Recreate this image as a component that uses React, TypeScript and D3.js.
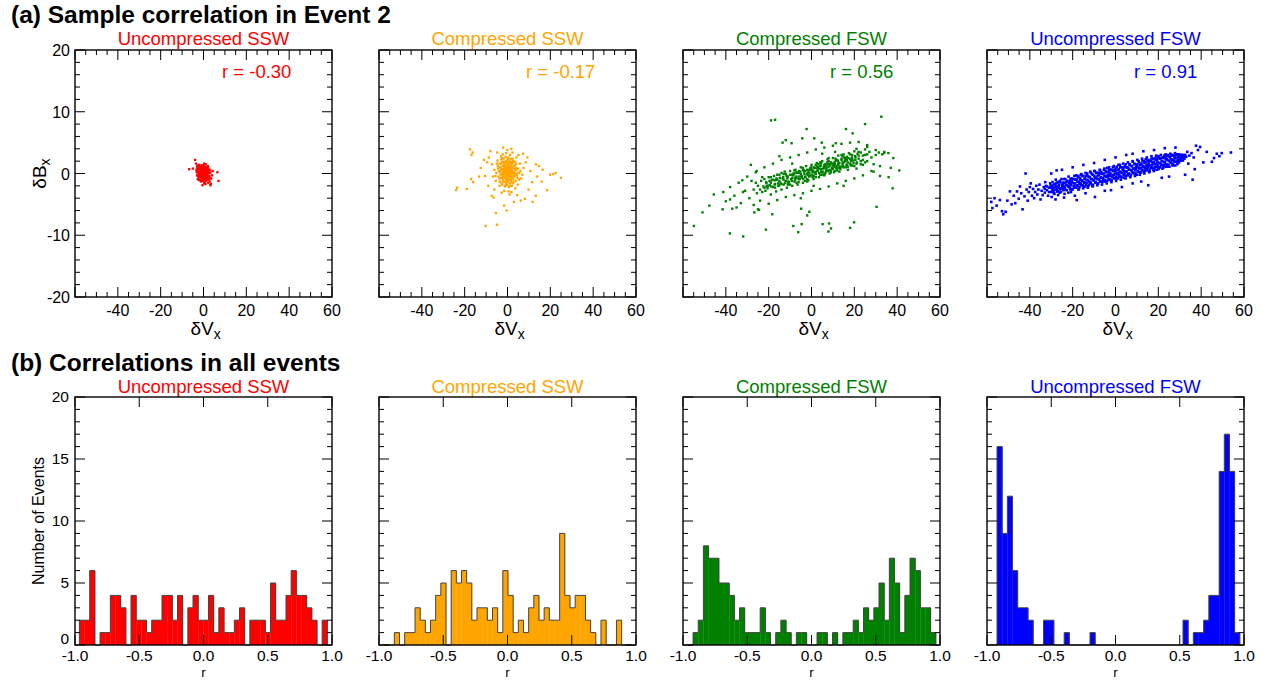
import React from "react";
import * as d3 from "d3";

// four solar wind groups, same order in both rows
const groupNames = ["Uncompressed SSW", "Compressed SSW", "Compressed FSW", "Uncompressed FSW"];
const groupColors = ["#ff0000", "#ffa500", "#008000", "#0000ff"];
const sampleCorrLabels = ["r = -0.30", "r = -0.17", "r = 0.56", "r = 0.91"];

const vxTicks = [-60, -40, -20, 0, 20, 40, 60];
const vxTickLabels = ["", "-40", "-20", "0", "20", "40", "60"];
const bxTicks = [-20, -10, 0, 10, 20];
const bxTickLabels = ["-20", "-10", "0", "10", "20"];
const rTicks = [-1, -0.5, 0, 0.5, 1];
const rTickLabels = ["-1.0", "-0.5", "0.0", "0.5", "1.0"];
const countTicks = [0, 5, 10, 15, 20];
const countTickLabels = ["0", "5", "10", "15", "20"];

// (a) sample event 2 : [dVx, dBx]
const uncompSswPoints = [
  [-6.7, 0.7], [-5, 0.8], [-3.9, 2.2], [-3.5, 1.6], [-3, 1.2], [-2.8, 0.5], [-2.5, 1.0], [-2.4, -0.2], [-2.2, 0.3], [-2, 1.4],
  [-2, -0.6], [-1.8, 0.8], [-1.6, 0.1], [-1.5, -1.0], [-1.4, 0.5], [-1.2, 1.1], [-1.1, -0.3], [-1, 0.2], [-0.9, 0.8], [-0.8, -0.7],
  [-0.7, 0.4], [-0.6, -0.1], [-0.5, 1.3], [-0.5, -1.9], [-0.4, 0.6], [-0.3, -0.4], [-0.2, 0.2], [-0.1, -1.2], [0, 0.9], [0, -0.2],
  [0.1, 0.4], [0.2, -0.8], [0.3, 1.6], [0.3, 0], [0.4, -0.5], [0.5, 0.7], [0.6, -1.4], [0.7, 0.2], [0.8, -0.2], [0.9, 1.0],
  [1, -0.9], [1.1, 0.3], [1.2, -0.4], [1.3, 0.8], [1.4, -1.1], [1.5, 0.1], [1.6, -0.6], [1.8, 0.5], [1.9, -0.2], [2, 1.2],
  [2.1, -1.0], [2.3, 0.3], [2.5, -0.5], [2.7, 0.6], [2.9, -1.3], [3.1, 0.1], [3.4, -1.7], [3.6, -0.8], [4, -0.3], [4.3, 0.4],
  [6.5, 0.2], [7, -1.2], [-1.3, -0.5], [-0.8, 0], [0.6, 0.1], [-0.2, 0.9], [1.7, 0.9], [-2.6, -0.4], [0.2, -1.6], [1, 1.5],
  [-1.9, -0.2], [2.2, -1.5], [0.4, 1.1], [-0.6, -1.1], [3.2, -1.9], [-3.2, 0.2], [0.9, -1.7], [1.2, 0.0], [-0.4, -0.8], [0.1, 0.0],
];
const uncompSswCore = [
  [-3.3, 0.6], [-3.0, -0.3], [-2.9, 0.9], [-2.7, -0.9], [-2.6, 0.2], [-2.4, 1.3], [-2.3, -0.5], [-2.1, 0.7], [-1.9, -1.1], [-1.8, 0.3],
  [-1.7, 1.0], [-1.5, -0.4], [-1.4, 0.9], [-1.3, 0.0], [-1.2, -1.3], [-1.0, 0.7], [-1.0, -0.6], [-0.9, 1.3], [-0.8, 0.4], [-0.7, -0.3],
  [-0.6, 0.8], [-0.5, -0.8], [-0.4, 0.1], [-0.3, 1.1], [-0.2, -0.5], [-0.1, 0.5], [0.0, -1.0], [0.1, 0.9], [0.2, 0.3], [0.3, -0.6],
  [0.4, 0.6], [0.5, -0.2], [0.6, 1.1], [0.7, -0.9], [0.8, 0.5], [0.9, -0.4], [1.0, 0.2], [1.1, -1.2], [1.2, 0.7], [1.3, -0.7],
  [1.4, 0.4], [1.5, -0.2], [1.6, 0.9], [1.7, -0.9], [1.8, 0.0], [2.0, 0.6], [2.1, -0.4], [2.3, 0.9], [2.4, -0.9], [2.6, 0.1],
  [2.8, -0.4], [3.0, 0.5], [3.2, -0.8], [-2.0, 0.0], [-0.6, 0.0], [0.5, 0.3], [1.9, 0.3], [-1.6, 0.5], [0.0, 1.3], [-2.2, -1.0],
];

const compSswPoints = [
  [-0.4, 0.3], [0.5, -0.2], [-1.2, 0.8], [1.3, 0.5], [-2.1, -0.4], [2.2, 0.1], [-0.8, -0.9], [0.9, 1.2], [-1.6, 1.5], [1.8, -1.1],
  [-3, 0.6], [3.1, -0.5], [-2.6, 1.9], [0.1, 2.3], [-0.3, -1.8], [2.6, 1.7], [-3.8, -0.8], [3.9, 0.9], [-1, 0], [0.2, 0.7],
  [-0.6, 1.1], [1.5, -0.4], [-2.3, 0.2], [2.8, -1.4], [-4.5, 1.2], [4.4, -0.3], [-1.9, -1.3], [1.1, -1.6], [-0.1, -0.6], [0.6, 0.2],
  [-1.4, 0.4], [1.9, 0.8], [-2.8, -1.5], [3.4, 1.3], [-5.2, 0.1], [5.3, -1.0], [-0.9, 2.7], [0.7, -2.2], [-3.4, 1.0], [2.4, 2.4],
  [-0.5, -0.3], [0.3, -1.0], [-1.7, -0.1], [1.6, 1.9], [-2.4, 2.5], [0.0, 1.6], [-1.1, -2.1], [2.0, -2.0], [-4.0, 0.4], [4.1, 0.5],
  [-0.2, 0.0], [1.0, 0.0], [-0.7, 0.5], [0.4, 1.5], [-1.3, -0.6], [2.9, 0.3], [-3.2, -0.2], [1.4, -0.8], [-2.0, 1.2], [0.8, -0.5],
  [-6.1, 0.6], [6.0, 0.4], [-5.5, -1.2], [5.8, 1.6], [-4.7, 2.1], [4.8, -1.8], [-0.6, 3.3], [1.2, 3.0], [-1.5, -2.8], [0.5, -2.9],
  [3.6, -2.4], [-3.7, -2.0], [-2.2, 3.1], [2.3, 3.4], [-0.3, 0.9], [0.2, -0.4], [-0.9, 0.2], [1.7, 0.3], [-1.8, 0.7], [1.2, 1.0],
  [-2.5, -0.7], [3.3, 0.0], [-0.4, -1.3], [0.6, 1.9], [-1.2, 1.8], [2.1, -0.7], [-6.8, -0.5], [6.9, -0.2], [-3.1, 2.8], [4.2, 2.6],
  [-7.2, 1.5], [7.5, 0.9], [-0.1, 3.8], [1.8, -3.0], [-2.7, -3.1], [0.9, -3.4],
  [-9.5, 1.8], [-8.7, 2.6], [-10.5, -0.4], [-12.5, 0.9], [-13.3, -0.5], [-7.4, -3.6], [-6.1, -2.6], [-9, -2], [-11, 2.2], [-8, 3.6],
  [9.3, 2.6], [10.7, 0.4], [11.5, -1.4], [8.5, 1.8], [6.2, -4.4], [8.1, -4.1], [11.7, -4.6], [13.2, -3.6], [13.3, 1.5], [14.6, 1.2],
  [13.8, -0.5], [16, -1.3], [5.1, 3.0], [-2, 4.2], [1.8, 4.0], [-1.6, -5.2], [-0.4, -6.0], [-5.4, -6.4], [4.5, -3.5], [9.8, -2.6],
  [7.3, 3.2], [-4.8, 3.4], [-6.5, -3.9], [3.0, -4.6],
  [-24, -2.7], [-23.5, -2.3], [-19, -2.5], [-17.5, 3.9], [-16.3, 3.4], [-16.8, 3.0], [-17, -0.9], [-16, -1.4], [-10.2, -8.5], [-4.9, -8.3],
  [16.4, 0.6], [19.9, -0.2], [21.4, -0.1], [22.5, 0.1], [24.9, -0.7], [18.5, -2.7],
];
const compSswCore = [
  [-3.5, 0.2], [-3.2, 1.0], [-3.0, -0.7], [-2.8, 1.5], [-2.6, -0.1], [-2.4, 0.7], [-2.2, -1.0], [-2.0, 1.9], [-1.9, 0.3], [-1.7, -0.5],
  [-1.6, 1.1], [-1.4, -1.4], [-1.3, 0.0], [-1.1, 1.4], [-1.0, -0.8], [-0.9, 0.6], [-0.8, 2.0], [-0.7, -0.2], [-0.5, 1.0], [-0.4, -1.1],
  [-0.3, 0.4], [-0.2, 1.8], [-0.1, -0.4], [0.0, 0.9], [0.1, -1.4], [0.2, 0.2], [0.3, 1.3], [0.4, -0.7], [0.5, 0.6], [0.6, 2.1],
  [0.7, -0.1], [0.8, 1.0], [0.9, -1.0], [1.0, 0.4], [1.1, 1.7], [1.2, -0.3], [1.4, 0.8], [1.5, -1.3], [1.6, 0.1], [1.7, 1.3],
  [1.9, -0.6], [2.0, 0.5], [2.1, 1.6], [2.3, -0.2], [2.5, 0.9], [2.7, -0.9], [2.9, 1.2], [3.1, 0.2], [3.3, -0.3], [3.5, 0.7],
  [3.8, -1.2], [4.0, 1.5], [4.3, 0.0], [4.6, -0.7], [5.0, 0.8], [-4.2, -0.5], [-4.4, 0.8], [-3.7, 1.6], [-3.6, -1.3], [-2.9, 2.3],
  [-1.8, 2.4], [-1.2, -2.0], [0.3, 2.6], [1.4, 2.4], [2.6, 2.0], [3.6, 1.9], [-5.0, 1.6], [-5.6, -0.4], [5.4, 0.1], [6.3, -0.8],
  [-0.6, -1.7], [0.9, -2.0], [2.4, -1.6], [-2.5, -1.8], [-0.8, 0.1], [0.4, 0.0], [-0.2, 0.6], [1.3, 0.2], [-1.5, 0.6], [0.6, -0.4],
];

const compFswPoints = [
  [-27, -2.6], [-26, -1.5], [-25.5, -3.2], [-25, -2.0], [-24, -2.6], [-23.5, -1.2], [-23, -3.0], [-22.5, -2.1], [-22, -0.9], [-21.5, -2.8],
  [-21, -1.6], [-20.5, -2.4], [-20, -0.6], [-19.5, -1.9], [-19, -3.4], [-18.5, -1.1], [-18, -2.2], [-17.5, -0.4], [-17, -1.7], [-16.5, -2.9],
  [-16, -1.0], [-15.5, -2.0], [-15, -0.2], [-14.5, -1.5], [-14, -2.6], [-13.5, -0.8], [-13, -1.8], [-12.5, 0.3], [-12, -1.2], [-11.5, -2.3],
  [-11, -0.5], [-10.5, -1.4], [-10, 0.4], [-9.5, -0.9], [-9, -2.0], [-8.5, -0.3], [-8, -1.3], [-7.5, 0.6], [-7, -0.7], [-6.5, -1.8],
  [-6, 0.1], [-5.5, -0.9], [-5, 1.0], [-4.5, -0.4], [-4, -1.5], [-3.5, 0.3], [-3, -0.6], [-2.5, 1.2], [-2, 0.0], [-1.5, -1.1],
  [-1, 0.6], [-0.5, -0.3], [0, 1.4], [0.5, 0.2], [1, -0.9], [1.5, 0.9], [2, -0.1], [2.5, 1.7], [3, 0.5], [3.5, -0.6],
  [4, 1.2], [4.5, 0.3], [5, 2.0], [5.5, 0.8], [6, -0.3], [6.5, 1.5], [7, 0.6], [7.5, 2.3], [8, 1.1], [8.5, 0.0],
  [9, 1.8], [9.5, 0.9], [10, 2.5], [10.5, 1.4], [11, 0.4], [11.5, 2.1], [12, 1.2], [12.5, 2.9], [13, 1.7], [13.5, 0.7],
  [14, 2.4], [14.5, 1.5], [15, 3.1], [15.5, 2.0], [16, 1.0], [16.5, 2.7], [17, 1.8], [17.5, 3.3], [18, 2.3], [18.5, 1.3],
  [19, 3.0], [19.5, 2.1], [20, 3.6], [20.5, 2.6], [21, 1.6], [21.5, 3.2], [22, 2.4], [23, 3.4], [24, 2.2], [25, 3.0],
  [26, 2.0], [27, 3.5], [28, 2.6], [30, 3.0],
  [-9, -0.2], [-7, 0.2], [-5, -0.1], [-3, 0.4], [-1, -0.5], [1, 0.3], [3, 1.0], [5, 0.2], [7, 1.3], [9, 0.5],
  [11, 1.5], [13, 0.9], [15, 1.8], [17, 1.1], [19, 2.4], [-8, 0.0], [-6, -0.5], [-4, 0.6], [-2, -0.9], [0, 0.5],
  [2, 1.4], [4, -0.2], [6, 0.9], [8, 2.0], [10, 0.7], [12, 2.2], [14, 1.1], [16, 2.5], [18, 1.6], [-11, -1.6],
  [-13, -0.1], [-15, -1.2], [-17, -2.3], [-19, -0.6], [-21, -2.1], [-0.5, 0.9], [0.5, -0.6], [2.5, 0.4], [4.5, 1.7], [6.5, 0.1],
  [8.5, 1.5], [10.5, 0.2], [12.5, 1.6], [14.5, 2.8], [16.5, 1.4], [3.7, 0.8], [5.8, 1.1], [7.8, 0.4], [9.8, 1.3], [11.8, 0.8],
  [1.8, 0.2], [-1.8, -0.2], [-3.8, -0.9], [-5.8, 0.4], [-7.8, -0.8],
  [-40, -4.5], [-38, -2.2], [-36, -3.6], [-34, -1.5], [-33, -4.8], [-31, -2.8], [-30, -0.5], [-29, -4.0], [-28, -1.2], [-27, -5.1],
  [-26, 0.2], [-24, -4.4], [-22, 1.0], [-20, -4.9], [-18, 1.6], [-16, -4.3], [-14, 2.2], [-12, -3.8], [-10, 2.6], [-8, -3.5],
  [-6, 3.0], [-4, -3.2], [-2, 3.4], [0, -2.8], [2, 3.9], [4, -2.5], [6, 4.2], [8, -2.1], [10, 4.5], [12, -1.6],
  [14, 4.8], [16, -1.2], [18, 5.0], [20, -0.8], [22, 5.1], [24, -0.3], [26, 4.6], [28, 0.4], [30, 3.8], [32, 1.2],
  [34, 3.5], [36, -0.6], [-35, -5.5], [-25, -5.8], [-15, 2.8], [-5, -4.0], [5, 3.2], [15, -2.0], [25, 3.9], [-32, -3.0],
  [-23, -0.6], [-9, 1.6], [1, -2.0], [11, 3.5], [21, 4.0], [29, 1.5], [33, 3.1],
  [-18.9, 8.6], [-17, 8.7], [32.6, 9.2], [25, 8.0], [16.1, 7.2], [19.2, 6.5], [-2.3, 7.2], [-54.9, -8.5], [-50.9, -6.3], [-47.7, -5.2],
  [-45.6, -3.4], [-38.1, -9.7], [-31.9, -10.2], [-21.3, -9.1], [-8.5, -8.5], [-6.2, -9.5], [-4.6, -8.2], [5.2, -8.2], [8.2, -8.1], [7.9, -9.4],
  [9.1, -8.9], [18, -8.8], [19.9, -7.9], [30.4, -5.4], [37.9, -2.4], [41, 0.5], [37, 0.9], [32, -0.4], [29, 0.3], [38.2, 2.5],
  [35.9, 3.3], [33.9, 3.3], [31.4, 3.4], [26, 4.3], [-41.5, -5.8], [-37, -5.7], [-26.7, -6.3], [-24.5, -5.9], [-18.3, -6.6], [-4.8, -5.7],
  [-2, -6.8], [-1, -6.2], [-41.2, -3.0], [-38, -4.2], [-32.3, -1.1], [-28.3, 1.4], [-25.6, 0.4], [-13.5, 5.0], [-12, 5.4], [-9.3, 4.9],
  [-4.3, 5.7], [1.3, 5.7], [4.8, 5.0], [11.3, 4.9],
];
const compFswCore = [
  [-22, -2.3], [-21.2, -1.4], [-20.4, -2.0], [-19.6, -1.2], [-18.8, -2.1], [-18, -1.0], [-17.2, -1.8], [-16.4, -0.8], [-15.6, -1.6], [-14.8, -0.7],
  [-14, -1.7], [-13.2, -0.6], [-12.4, -1.5], [-11.6, -0.4], [-10.8, -1.3], [-10, -0.2], [-9.2, -1.2], [-8.4, 0.0], [-7.6, -1.0], [-6.8, 0.1],
  [-6, -0.9], [-5.2, 0.3], [-4.4, -0.7], [-3.6, 0.5], [-2.8, -0.5], [-2, 0.6], [-1.2, -0.4], [-0.4, 0.8], [0.4, -0.2], [1.2, 1.0],
  [2, 0.0], [2.8, 1.1], [3.6, 0.1], [4.4, 1.3], [5.2, 0.3], [6, 1.4], [6.8, 0.4], [7.6, 1.6], [8.4, 0.6], [9.2, 1.7],
  [10, 0.8], [10.8, 1.9], [11.6, 0.9], [12.4, 2.0], [13.2, 1.1], [14, 2.2], [14.8, 1.2], [15.6, 2.3], [16.4, 1.4], [17.2, 2.5],
  [18, 1.5], [18.8, 2.6], [19.6, 1.7], [20.4, 2.8], [21.2, 1.8], [22, 2.9], [23, 2.0], [24, 2.9], [25, 1.8], [26, 3.1],
  [-19, -1.5], [-17, -1.1], [-15, -1.9], [-13, -1.0], [-11, -1.8], [-9, -0.7], [-7, -1.5], [-5, -0.5], [-3, -1.2], [-1, 0.1],
  [1, -0.4], [3, 0.7], [5, -0.2], [7, 0.9], [9, 0.2], [11, 1.1], [13, 0.3], [15, 1.0], [17, 0.6], [19, 1.3],
  [21, 0.8], [23, 1.5], [-16, -0.2], [-14, 0.1], [-12, -0.1], [-10, -1.8], [-8, 0.5], [-6, -1.4], [-4, 0.9], [-2, -1.3],
  [0, 1.0], [2, -0.6], [4, 1.8], [6, -0.1], [8, 2.5], [10, 1.6], [12, 0.5], [14, 3.0], [16, 2.0], [18, 3.1],
  [20, 1.2], [22, 3.5], [24, 1.4], [-1.5, 0.3], [0.5, 0.6], [2.5, 0.9], [4.5, 0.7], [6.5, 1.1], [8.5, 1.3], [10.5, 1.2],
  [12.5, 1.4], [14.5, 1.8], [16.5, 2.2], [18.5, 2.0], [20.5, 2.2], [3.2, 1.5], [7.3, 1.8], [11.2, 2.4], [15.2, 2.6], [-3.3, -0.1],
  [-7.3, -0.5], [-11.3, -0.8],
];

const uncompFswPoints = [
  [-58, -4.6], [-57.5, -5.6], [-56.5, -4.0], [-55.5, -5.2], [-54, -4.3], [-53, -6.1], [-52.4, -6.6], [-51.3, -6.2], [-50.5, -4.4], [-49.3, -2.9],
  [-48.5, -5.0], [-47.5, -3.6], [-46.8, -4.8], [-46, -2.9], [-45.2, -4.1], [-44.6, -2.1], [-44, -3.2], [-43.4, -5.8], [-42.5, -3.7], [-42, 0.0],
  [-41.5, -2.6], [-41, -4.4], [-40.5, -3.0], [-40, -2.2], [-39.6, -1.6], [-39, -3.6], [-38.5, -2.5], [-38, -4.0], [-37.5, -3.0], [-37, -2.0],
  [-36.5, -3.4], [-36, -2.6], [-35.5, -1.8], [-35, -4.2], [-34.5, -2.8], [-34, -3.5], [-33.5, -2.2],
  [-33, -3.1], [-32.5, -2.0], [-32, -2.7], [-31.5, -3.6], [-31, -2.3], [-30.5, -1.6], [-30, -3.0], [-29.5, -2.5], [-29, -1.9], [-28.5, -3.3],
  [-28, -2.2], [-27.5, -1.5], [-27.5, 0.5], [-27, -2.9], [-26.5, -2.0], [-26, -1.2], [-25.5, -3.0], [-25, -2.4], [-24.5, -1.7], [-24, -0.9],
  [-23.5, -2.6], [-23, -1.9], [-22.5, -1.3], [-22, -3.1], [-21.5, -2.2], [-21, -1.6], [-20.5, -0.8], [-20, -2.5], [-33, -2.5], [-32, -2.1],
  [-31, -3.0], [-30, -2.3], [-29, -2.8], [-28, -1.7], [-27, -2.3], [-26, -2.6], [-25, -1.8], [-24, -2.1], [-23, -1.4], [-22, -2.0],
  [-21, -2.6], [-20, -1.5], [-32.8, -1.4], [-29.8, -3.8], [-26.8, -3.5], [-23.8, -3.3], [-20.8, -3.0], [-30.3, -2.0], [-27.3, -2.6], [-24.3, -2.5],
  [-21.3, -1.2], [-18.1, -4.3],
  [-19.3, -2.3], [-19, -1.6], [-18.7, -1.0], [-18.4, -0.3], [-18.2, -2.0], [-17.9, -1.3], [-17.6, -0.6], [-17.3, -2.6],
  [-17.1, -2.5], [-16.8, -1.7], [-16.5, -1.0], [-16.2, -0.2], [-16, -1.9], [-15.7, -1.2], [-15.4, -0.4], [-15.1, -2.4],
  [-14.9, -2.2], [-14.6, -1.5], [-14.3, -0.8], [-14, 0.1], [-13.8, -1.8], [-13.5, -1.0], [-13.2, -0.3], [-12.9, -2.3],
  [-12.7, -2.0], [-12.4, -1.3], [-12.1, -0.6], [-11.8, 0.3], [-11.6, -1.6], [-11.3, -0.9], [-11, -0.1], [-10.7, -2.1],
  [-10.5, -1.9], [-10.2, -1.1], [-9.9, -0.4], [-9.6, 0.4], [-9.4, -1.5], [-9.1, -0.7], [-8.8, 0.1], [-8.5, -1.9],
  [-8.3, -1.6], [-8, -0.9], [-7.7, -0.2], [-7.4, 0.6], [-7.2, -1.3], [-6.9, -0.6], [-6.6, 0.2], [-6.3, -1.8],
  [-6.1, -1.4], [-5.8, -0.7], [-5.5, 0.0], [-5.2, 0.8], [-5, -1.1], [-4.7, -0.4], [-4.4, 0.4], [-4.1, -1.6],
  [-3.9, -1.2], [-3.6, -0.5], [-3.3, 0.2], [-3, 1.0], [-2.8, -0.9], [-2.5, -0.2], [-2.2, 0.6], [-1.9, -1.4],
  [-1.7, -1.0], [-1.4, -0.3], [-1.1, 0.4], [-0.8, 1.2], [-0.6, -0.7], [-0.3, 0.0], [0, 0.8], [0.3, -1.2],
  [0.5, -0.8], [0.8, -0.1], [1.1, 0.6], [1.4, 1.4], [1.6, -0.5], [1.9, 0.2], [2.2, 1.0], [2.5, -1.0],
  [2.7, -0.6], [3, 0.1], [3.3, 0.8], [3.6, 1.6], [3.8, -0.3], [4.1, 0.4], [4.4, 1.2], [4.7, -0.8],
  [4.9, -0.4], [5.2, 0.3], [5.5, 1.0], [5.8, 1.8], [6, -0.1], [6.3, 0.6], [6.6, 1.4], [6.9, -0.6],
  [7.1, -0.2], [7.4, 0.5], [7.7, 1.2], [8, 2.0], [8.2, 0.1], [8.5, 0.8], [8.8, 1.6], [9.1, -0.4],
  [9.3, 0.0], [9.6, 0.7], [9.9, 1.4], [10.2, 2.2], [10.4, 0.3], [10.7, 1.0], [11, 1.8], [11.3, -0.2],
  [11.5, 0.2], [11.8, 0.9], [12.1, 1.6], [12.4, 2.4], [12.6, 0.5], [12.9, 1.2], [13.2, 2.0], [13.5, 0.0],
  [13.7, 0.4], [14, 1.1], [14.3, 1.8], [14.6, 2.6], [14.8, 0.7], [15.1, 1.4], [15.4, 2.2], [15.7, 0.2],
  [15.9, 0.6], [16.2, 1.3], [16.5, 2.0], [16.8, 2.8], [17, 0.9], [17.3, 1.6], [17.6, 2.4], [17.9, 0.4],
  [18.1, 0.8], [18.4, 1.5], [18.7, 2.2], [19, 2.9], [19.2, 1.1], [19.5, 1.8], [19.8, 2.5], [20.1, 0.7],
  [20.3, 1.0], [20.6, 1.7], [20.9, 2.4], [21.2, 3.0], [21.4, 1.3], [21.7, 2.0], [22, 2.6], [22.3, 0.9],
  [22.5, 1.2], [22.8, 1.9], [23.1, 2.6], [23.4, 3.1], [23.6, 1.5], [23.9, 2.2], [24.2, 2.8], [24.5, 1.1],
  [24.7, 1.4], [25, 2.1], [25.3, 2.7], [25.6, 3.2], [25.8, 1.7], [26.1, 2.3], [26.4, 2.9], [26.7, 1.3],
  [26.9, 1.6], [27.2, 2.2], [27.5, 2.8], [27.8, 3.3], [28, 1.9], [28.3, 2.5], [28.6, 3.0], [28.9, 1.5],
  [29.1, 2.0], [29.4, 2.6], [29.7, 3.1], [30, 2.3], [30.3, 2.7], [30.6, 2.1], [31, 3.0], [31.4, 2.5],
  [31.8, 2.9], [32.2, 2.4], [32.5, 3.0], [33, 2.7],
  [-28, -4.2], [-24, -3.9], [-19, -3.6], [-14, -3.2], [-9.6, -3.8], [-5, -2.8], [-2.1, -2.7], [3, -2.2], [8, -1.6], [12, -1.3],
  [15.3, -1.9], [21.6, -0.7], [25, -0.5], [32.5, -0.2], [-30, 0.0], [-25, 0.6], [-20, 1.0], [-15, 1.4], [-10, 1.7], [-5, 2.2],
  [0, 2.6], [5, 3.0], [8, 3.2], [13, 3.6], [18, 3.8], [23, 4.1], [28, 4.2],
  [33.5, 3.5], [34.5, 2.9], [35.5, 3.3], [36.5, 2.6], [37.6, 4.5], [39.5, 4.3], [38.5, 3.8], [41, 1.8], [42.6, 3.5], [45, 1.9],
  [46, 2.5], [47.3, 3.2], [48.5, 2.8], [49.6, 3.3], [53.9, 3.4], [36, -1.0], [37, 0.7], [34, 1.6],
];
const uncompFswCore = [
  [-30, -2.0], [-29.7, -2.9], [-29.4, -1.4], [-29.1, -2.3], [-28.8, -3.2], [-28.5, -1.7], [-28.2, -2.6], [-27.9, -1.0], [-27.6, -2.1], [-27.3, -2.9],
  [-27, -1.4], [-26.7, -2.3], [-26.4, -1.8], [-26.1, -3.1], [-25.8, -1.4], [-25.5, -2.4], [-25.2, -0.9], [-24.9, -2.1], [-24.6, -1.5], [-24.3, -2.7],
  [-24, -1.5], [-23.7, -2.4], [-23.4, -0.9], [-23.1, -1.8], [-22.8, -2.7], [-22.5, -1.2], [-22.2, -2.1], [-21.9, -0.5], [-21.6, -1.6], [-21.3, -2.4],
  [-21, -0.9], [-20.7, -1.9], [-20.4, -1.3], [-20.1, -2.6], [-19.8, -0.9], [-19.5, -2.0], [-19.2, -0.4], [-18.9, -1.6], [-18.6, -1.0], [-18.3, -2.3],
  [-18, -1.0], [-17.7, -1.9], [-17.4, -0.4], [-17.1, -1.4], [-16.8, -2.2], [-16.5, -0.7], [-16.2, -1.6], [-15.9, -0.1], [-15.6, -1.1], [-15.3, -1.9],
  [-15, -0.4], [-14.7, -1.4], [-14.4, -0.9], [-14.1, -2.1], [-13.8, -0.4], [-13.5, -1.5], [-13.2, 0.0], [-12.9, -1.1], [-12.6, -0.5], [-12.3, -1.8],
  [-12, -0.6], [-11.7, -1.4], [-11.4, 0.1], [-11.1, -0.9], [-10.8, -1.8], [-10.5, -0.2], [-10.2, -1.1], [-9.9, 0.4], [-9.6, -0.7], [-9.3, -1.4],
  [-9, 0.1], [-8.7, -0.9], [-8.4, -0.4], [-8.1, -1.6], [-7.8, 0.1], [-7.5, -1.0], [-7.2, 0.5], [-6.9, -0.7], [-6.6, 0.0], [-6.3, -1.3],
  [-6, -0.1], [-5.7, -1.0], [-5.4, 0.6], [-5.1, -0.4], [-4.8, -1.3], [-4.5, 0.2], [-4.2, -0.6], [-3.9, 0.9], [-3.6, -0.2], [-3.3, -1.0],
  [-3, 0.6], [-2.7, -0.4], [-2.4, 0.1], [-2.1, -1.2], [-1.8, 0.6], [-1.5, -0.5], [-1.2, 1.0], [-0.9, -0.2], [-0.6, 0.5], [-0.3, -0.8],
  [0, 0.4], [0.3, -0.5], [0.6, 1.1], [0.9, 0.1], [1.2, -0.8], [1.5, 0.7], [1.8, -0.2], [2.1, 1.4], [2.4, 0.3], [2.7, -0.5],
  [3, 1.0], [3.3, 0.1], [3.6, 0.6], [3.9, -0.7], [4.2, 1.0], [4.5, 0.0], [4.8, 1.5], [5.1, 0.3], [5.4, 0.9], [5.7, -0.3],
  [6, 0.9], [6.3, 0.0], [6.6, 1.5], [6.9, 0.6], [7.2, -0.3], [7.5, 1.2], [7.8, 0.3], [8.1, 1.9], [8.4, 0.8], [8.7, 0.0],
  [9, 1.5], [9.3, 0.5], [9.6, 1.1], [9.9, -0.2], [10.2, 1.5], [10.5, 0.4], [10.8, 2.0], [11.1, 0.8], [11.4, 1.4], [11.7, 0.1],
  [12, 1.4], [12.3, 0.5], [12.6, 2.0], [12.9, 1.0], [13.2, 0.2], [13.5, 1.7], [13.8, 0.8], [14.1, 2.3], [14.4, 1.3], [14.7, 0.5],
  [15, 2.0], [15.3, 1.0], [15.6, 1.6], [15.9, 0.3], [16.2, 2.0], [16.5, 0.9], [16.8, 2.4], [17.1, 1.3], [17.4, 1.9], [17.7, 0.6],
  [18, 1.8], [18.3, 1.0], [18.6, 2.5], [18.9, 1.5], [19.2, 0.6], [19.5, 2.2], [19.8, 1.3], [20.1, 2.8], [20.4, 1.7], [20.7, 1.0],
  [21, 2.5], [21.3, 1.5], [21.6, 2.0], [21.9, 0.8], [22.2, 2.5], [22.5, 1.4], [22.8, 2.9], [23.1, 1.8], [23.4, 2.4], [23.7, 1.1],
  [24, 2.3], [24.3, 1.4], [24.6, 3.0], [24.9, 2.0], [25.2, 1.1], [25.5, 2.6], [25.8, 1.8], [26.1, 3.0], [26.4, 2.2], [26.7, 1.4],
  [27, 3.0], [27.3, 2.0], [27.6, 2.5], [27.9, 1.3], [28.2, 3.0], [28.5, 1.9], [28.8, 3.1], [29.1, 2.2], [29.4, 2.9], [29.7, 1.8],
  [30, 2.8], [30.3, 2.1], [30.6, 3.0], [30.9, 2.5], [31.2, 2.8], [31.5, 2.1], [31.8, 3.0], [32.1, 2.7],
];

// (b) histograms of r, one count per bin
const histBinWidth = 0.0402;
const histBinStart = [-0.966, -0.961, -0.962, -0.922];
const uncompSswCounts = [
  2, 2, 6, 0, 1, 1, 4, 4, 3, 0, 4, 2, 2, 1, 2, 2, 4, 4, 2, 4, 0, 3, 4, 2,
  2, 4, 1, 3, 1, 1, 2, 3, 0, 2, 2, 2, 1, 5, 2, 2, 4, 6, 4, 4, 3, 2, 0, 2,
];
const compSswCounts = [
  0, 0, 1, 0, 1, 1, 3, 2, 1, 2, 4, 5, 0, 6, 5, 6, 5, 2, 3, 3, 2, 3, 1, 6,
  4, 1, 2, 1, 3, 4, 2, 3, 2, 2, 9, 4, 3, 4, 4, 2, 1, 0, 2, 0, 0, 2, 0, 0,
];
const compFswCounts = [
  0, 1, 2, 8, 7, 7, 5, 5, 4, 2, 3, 1, 1, 1, 3, 1, 0, 1, 2, 1, 0, 1, 1, 0,
  0, 1, 1, 0, 1, 0, 1, 1, 2, 1, 3, 2, 3, 5, 2, 7, 5, 1, 4, 7, 6, 3, 3, 1,
];
const uncompFswCounts = [
  16, 9, 12, 6, 3, 3, 2, 0, 0, 2, 2, 0, 0, 1, 0, 0, 0, 0, 1, 0, 0, 0, 0, 0,
  0, 0, 0, 0, 0, 0, 0, 0, 0, 0, 0, 0, 2, 0, 1, 1, 2, 4, 4, 14, 17, 14, 1,
];

const scatterSets = [
  uncompSswPoints.concat(uncompSswCore),
  compSswPoints.concat(compSswCore),
  compFswPoints.concat(compFswCore),
  uncompFswPoints.concat(uncompFswCore),
];
const histSets = [uncompSswCounts, compSswCounts, compFswCounts, uncompFswCounts];

const FONT = "'Liberation Sans', Arial, Helvetica, sans-serif";
const W = 1270;
const H = 680;
const panelLeft = 75;
const panelStep = 304;
const panelW = 257;
const scatterTop = 50;
const scatterH = 247;
const histTop = 397;
const histH = 248;
const dotSizes = [2.3, 2.3, 2.4, 2.6];

// box with inward ticks on all four sides (IDL style)
function Frame({ xs, ys, xMajor, xMinor, yMajor, yMinor, majorLen = 10, minorLen = 5 }) {
  const [x0, x1] = xs.range();
  const [y0, y1] = ys.range(); // y0 bottom, y1 top
  const tk = [];
  xMajor.forEach((v, i) => {
    const px = xs(v);
    tk.push(<line key={"xb" + i} x1={px} x2={px} y1={y0} y2={y0 - majorLen} />);
    tk.push(<line key={"xt" + i} x1={px} x2={px} y1={y1} y2={y1 + majorLen} />);
  });
  xMinor.forEach((v, i) => {
    const px = xs(v);
    tk.push(<line key={"xbm" + i} x1={px} x2={px} y1={y0} y2={y0 - minorLen} />);
    tk.push(<line key={"xtm" + i} x1={px} x2={px} y1={y1} y2={y1 + minorLen} />);
  });
  yMajor.forEach((v, i) => {
    const py = ys(v);
    tk.push(<line key={"yl" + i} x1={x0} x2={x0 + majorLen} y1={py} y2={py} />);
    tk.push(<line key={"yr" + i} x1={x1} x2={x1 - majorLen} y1={py} y2={py} />);
  });
  yMinor.forEach((v, i) => {
    const py = ys(v);
    tk.push(<line key={"ylm" + i} x1={x0} x2={x0 + minorLen} y1={py} y2={py} />);
    tk.push(<line key={"yrm" + i} x1={x1} x2={x1 - minorLen} y1={py} y2={py} />);
  });
  return (
    <g>
      <g stroke="#000" strokeWidth={1}>{tk}</g>
      <rect x={x0} y={y1} width={x1 - x0} height={y0 - y1} fill="none" stroke="#000" strokeWidth={1.4} />
    </g>
  );
}

function ScatterPanel({ idx }) {
  const left = panelLeft + idx * panelStep;
  const xs = d3.scaleLinear().domain([-60, 60]).range([left, left + panelW]);
  const ys = d3.scaleLinear().domain([-20, 20]).range([scatterTop + scatterH, scatterTop]);
  const pts = scatterSets[idx];
  const color = groupColors[idx];
  const dot = dotSizes[idx];
  const cx = left + panelW / 2;
  return (
    <g>
      <text x={cx} y={44.5} textAnchor="middle" fill={color} fontSize={18.5}>{groupNames[idx]}</text>
      <g fill={color}>
        {pts.map((p, i) => (
          <rect key={i} x={xs(p[0]) - dot / 2} y={ys(p[1]) - dot / 2} width={dot} height={dot} />
        ))}
      </g>
      <Frame
        xs={xs}
        ys={ys}
        xMajor={vxTicks}
        xMinor={d3.range(-60, 61, 5).filter((v) => v % 20 !== 0)}
        yMajor={bxTicks}
        yMinor={d3.range(-20, 21, 2).filter((v) => v % 10 !== 0)}
      />
      <text x={left + 147} y={78} fill={color} fontSize={18.5}>{sampleCorrLabels[idx]}</text>
      {vxTicks.map((v, i) => (
        <text key={i} x={xs(v)} y={316} textAnchor="middle" fontSize={16}>{vxTickLabels[i]}</text>
      ))}
      <text x={cx + 2} y={335} textAnchor="middle" fontSize={19}>
        δV<tspan fontSize={14} dy={4}>x</tspan>
      </text>
      {idx === 0 &&
        bxTicks.map((v, i) => (
          <text key={"y" + i} x={left - 5} y={ys(v) + 6} textAnchor="end" fontSize={16}>{bxTickLabels[i]}</text>
        ))}
      {idx === 0 && (
        <text transform={`translate(46,${scatterTop + scatterH / 2}) rotate(-90)`} textAnchor="middle" fontSize={19}>
          δB<tspan fontSize={14} dy={4}>x</tspan>
        </text>
      )}
    </g>
  );
}

function HistPanel({ idx }) {
  const left = panelLeft + idx * panelStep;
  const xs = d3.scaleLinear().domain([-1, 1]).range([left, left + panelW]);
  const ys = d3.scaleLinear().domain([0, 20]).range([histTop + histH, histTop]);
  const counts = histSets[idx];
  const start = histBinStart[idx];
  const color = groupColors[idx];
  const cx = left + panelW / 2;
  const edge = (i) => start + i * histBinWidth;
  const stepPts = [[edge(0), 0]]
    .concat(counts.map((c, i) => [edge(i), c]))
    .concat([[edge(counts.length), counts[counts.length - 1]], [edge(counts.length), 0]]);
  const outline = d3
    .line()
    .x((d) => xs(d[0]))
    .y((d) => ys(d[1]))
    .curve(d3.curveStepAfter)(stepPts);
  return (
    <g>
      <text x={cx} y={393} textAnchor="middle" fill={color} fontSize={18.5}>{groupNames[idx]}</text>
      <g fill={color}>
        {counts.map((c, i) =>
          c > 0 ? (
            <rect key={i} x={xs(edge(i))} y={ys(c)} width={xs(edge(i + 1)) - xs(edge(i)) + 0.3} height={ys(0) - ys(c)} />
          ) : null
        )}
      </g>
      <path d={outline} fill="none" stroke="#444" strokeWidth={1} />
      <Frame
        xs={xs}
        ys={ys}
        xMajor={rTicks}
        xMinor={[]}
        yMajor={countTicks}
        yMinor={d3.range(0, 21, 1).filter((v) => v % 5 !== 0)}
      />
      {rTicks.map((v, i) => (
        <text key={i} x={xs(v)} y={661} textAnchor="middle" fontSize={15.5}>{rTickLabels[i]}</text>
      ))}
      <text x={cx} y={676.8} textAnchor="middle" fontSize={13.5}>r</text>
      {idx === 0 &&
        countTicks.map((v, i) => (
          <text key={"y" + i} x={left - 6} y={ys(v) + (v === 0 ? -1.5 : 5)} textAnchor="end" fontSize={15.5}>{countTickLabels[i]}</text>
        ))}
      {idx === 0 && (
        <text transform={`translate(44,${histTop + histH / 2}) rotate(-90)`} textAnchor="middle" fontSize={16}>
          Number of Events
        </text>
      )}
    </g>
  );
}

export default function App() {
  return (
    <svg width={W} height={H} style={{ position: "absolute", left: 0, top: 0, background: "#fff" }} fontFamily={FONT}>
      <rect width={W} height={H} fill="#fff" />
      <text x={11} y={22.5} fontSize={24.5} fontWeight="bold">(a) Sample correlation in Event 2</text>
      <text x={11} y={370.5} fontSize={24.5} fontWeight="bold">(b) Correlations in all events</text>
      {[0, 1, 2, 3].map((i) => (
        <ScatterPanel key={"s" + i} idx={i} />
      ))}
      {[0, 1, 2, 3].map((i) => (
        <HistPanel key={"h" + i} idx={i} />
      ))}
    </svg>
  );
}
